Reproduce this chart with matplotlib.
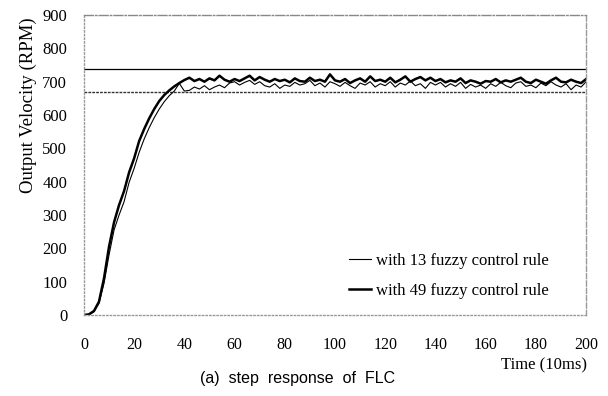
#!/usr/bin/env python
import numpy as np
import matplotlib
matplotlib.use('Agg')
import matplotlib.pyplot as plt

# time axis (x 10ms)
time = np.arange(0, 201, 2)

# with 13 fuzzy control rule (thin line)
rule13 = [0, 1, 10, 35, 95, 180, 255, 300, 340, 398, 440, 488, 528, 562, 592, 618, 640, 658, 672, 695, 672,
          674, 684, 678, 688, 676, 684, 690, 682, 696, 700,
          690, 698, 704, 692, 700, 688, 684, 694, 680, 690,
          686, 698, 690, 694, 704, 688, 696, 684, 700, 694,
          686, 698, 688, 680, 696, 690, 700, 684, 694, 688,
          700, 684, 696, 690, 702, 688, 694, 680, 698, 690,
          698, 684, 694, 686, 698, 680, 692, 684, 690, 680,
          694, 686, 698, 688, 682, 696, 700, 686, 690, 682,
          696, 688, 700, 690, 684, 694, 676, 690, 684, 700]

# with 49 fuzzy control rule (thick line)
rule49 = [0, 2, 12, 40, 110, 205, 278, 330, 372, 428, 470, 522, 558, 590, 618, 642, 660, 674, 686, 696, 705,
          712, 702, 708, 700, 710, 704, 718, 706, 700, 708,
          702, 710, 718, 704, 714, 706, 700, 708, 702, 706,
          698, 710, 702, 700, 712, 702, 706, 700, 722, 704,
          700, 708, 696, 704, 710, 700, 716, 702, 706, 700,
          712, 698, 706, 716, 700, 708, 714, 704, 712, 702,
          708, 698, 704, 700, 710, 696, 704, 700, 694, 702,
          700, 708, 698, 704, 700, 706, 712, 700, 696, 706,
          700, 694, 704, 712, 700, 698, 706, 700, 696, 708]

# +-5% band around 700 rpm
band_hi = 737
band_lo = 668

serif = ['Liberation Serif', 'DejaVu Serif']

fig = plt.figure(figsize=(6.08, 3.96), dpi=100)
ax = fig.add_axes([0.138, 0.2045, 0.826, 0.7575])

ax.axhline(band_hi, color='black', lw=0.9)
ax.axhline(band_lo, color='#333333', lw=1.0, dashes=(2, 0.8))

ax.plot(time, rule13, color='black', lw=0.8, label='with 13 fuzzy control rule')
ax.plot(time, rule49, color='black', lw=1.8, label='with 49 fuzzy control rule')

ax.set_xlim(0, 200)
ax.set_ylim(0, 900)
ax.set_xticks(np.arange(0, 201, 20))
ax.set_yticks(np.arange(0, 901, 100))
ax.tick_params(axis='x', length=0, pad=16, labelsize=11.5)
ax.tick_params(axis='y', length=0, pad=12, labelsize=12)
for lab in ax.get_xticklabels() + ax.get_yticklabels():
    lab.set_family(serif)

for s in ['left', 'bottom']:
    ax.spines[s].set_color('#999999')
    ax.spines[s].set_linestyle(':')
    ax.spines[s].set_linewidth(1.0)
ax.spines['top'].set_color('#888888')
ax.spines['top'].set_linestyle('-.')
ax.spines['top'].set_linewidth(1.0)
ax.spines['right'].set_color('#999999')
ax.spines['right'].set_linestyle('--')
ax.spines['right'].set_linewidth(1.0)

ax.set_ylabel('Output Velocity (RPM)', family=serif, fontsize=13.5)
ax.yaxis.set_label_coords(-0.094, 0.70)
fig.text(0.966, 0.078, 'Time (10ms)', family=serif, fontsize=12, ha='right', va='center')
fig.text(0.49, 0.025, '(a)  step  response  of  FLC', family=['Liberation Sans', 'DejaVu Sans'],
         fontsize=11.5, ha='center', va='bottom')

leg = ax.legend(loc='lower right', bbox_to_anchor=(0.925, 0.055), frameon=False,
                borderaxespad=0, borderpad=0,
                handlelength=1.3, handletextpad=0.3, labelspacing=0.8,
                prop={'family': serif, 'size': 12})

fig.savefig('out.png', dpi=100)
